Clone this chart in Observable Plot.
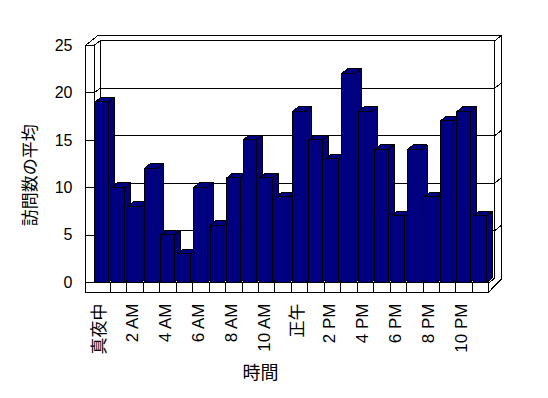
<!DOCTYPE html>
<html>
<head>
<meta charset="utf-8">
<script src="https://cdn.jsdelivr.net/npm/d3@7"></script>
<script src="https://cdn.jsdelivr.net/npm/@observablehq/plot@0.6"></script>
<style>
  html, body { margin: 0; padding: 0; background: #ffffff; }
  #chart { width: 548px; height: 398px; }
</style>
</head>
<body>
<div id="chart"></div>
<script>
// ---- data ----
const hourLabels = ["真夜中","1 AM","2 AM","3 AM","4 AM","5 AM","6 AM","7 AM","8 AM","9 AM","10 AM","11 AM",
                    "正午","1 PM","2 PM","3 PM","4 PM","5 PM","6 PM","7 PM","8 PM","9 PM","10 PM","11 PM"];
const visits = [19,10,8,12,5,3,10,6,11,15,11,9,18,15,13,22,18,14,7,14,9,17,18,7];
const yTicks = [0,5,10,15,20,25];
const xTickIdx = [0,2,4,6,8,10,12,14,16,18,20,22];
const yTitle = "訪問数の平均";
const xTitle = "時間";

// ---- 3D geometry in data units ----
const X0 = -0.5, X1 = visits.length - 0.5, Y1 = 25;
const DX = 0.365, DY = 0.495;          // depth of the chart (bars span it)
const LW = 0.53, FT = 0.97;             // left wall / floor thickness
const BWX = 0.41, BWY = 0.58;           // back wall thickness
const HW = 0.41;                        // half bar width

const segs = [];
const S = (x1, y1, x2, y2) => segs.push({x1, y1, x2, y2});
// left wall
S(X0 - LW, Y1, X0 - LW, -FT);
S(X0, Y1, X0, 0);
for (const v of yTicks) { S(X0 - LW, v, X0, v); S(X0, v, X0 + DX, v + DY); }
// back wall
S(X0 + DX, DY, X0 + DX, Y1 + DY);
S(X1 + DX, DY, X1 + DX, Y1 + DY);
for (const v of yTicks.filter(v => v > 0)) {
  S(X0 + DX, v + DY, X1 + DX, v + DY);
  S(X1 + DX, v + DY, X1 + DX + BWX, v + DY + BWY);
}
S(X0 + 0.255, Y1 + DY + BWY, X1 + DX + BWX, Y1 + DY + BWY);
S(X0 - LW, Y1, X0 + 0.255, Y1 + DY + BWY);
S(X1 + DX + BWX, Y1 + DY + BWY, X1 + DX + BWX, 0.42);
S(X1 + DX + BWX, 0.42, X1, -FT);
// floor
S(X0 - LW, -FT, X1, -FT);
S(X0, 0, X1, 0);
S(X1, 0, X1, -FT);
S(X1, 0, X1 + DX, DY);
for (let k = 0; k < visits.length - 1; k++) S(k + 0.5, 0, k + 0.5, -FT);

// bar faces
const fronts = visits.map((v, i) => ({bar: i, x1: i - HW, x2: i + HW, y1: 0, y2: v}));
const sides = visits.flatMap((v, i) => [
  {bar: i, x: i + HW, y1: 0, y2: v},
  {bar: i, x: i + HW + DX, y1: DY, y2: v + DY}
]);
const tops = visits.flatMap((v, i) => [
  {bar: i, y: v, x1: i - HW, x2: i + HW},
  {bar: i, y: v + DY, x1: i - HW + DX, x2: i + HW + DX}
]);

const NAVY = "#000080";
const chart = Plot.plot({
  width: 548,
  height: 398,
  marginLeft: 93.5,
  marginRight: 59.7,
  marginTop: 45,
  marginBottom: 115.7,
  style: {fontFamily: "'Liberation Sans', 'Noto Sans CJK JP', sans-serif", fontSize: "16px", background: "#ffffff", color: "#000"},
  x: {type: "linear", domain: [X0, X1]},
  y: {domain: [0, 25], label: null},
  marks: [
    Plot.link(segs, {x1: "x1", y1: "y1", x2: "x2", y2: "y2", stroke: "#000", strokeWidth: 1, shapeRendering: "crispEdges"}),
    Plot.areaY(sides, {x: "x", y1: "y1", y2: "y2", z: "bar", fill: NAVY, stroke: "#000", strokeWidth: 1, shapeRendering: "crispEdges"}),
    Plot.areaX(tops, {y: "y", x1: "x1", x2: "x2", z: "bar", fill: NAVY, stroke: "#000", strokeWidth: 1, shapeRendering: "crispEdges"}),
    Plot.rect(fronts, {x1: "x1", x2: "x2", y1: "y1", y2: "y2", fill: NAVY, stroke: "#000", strokeWidth: 1, shapeRendering: "crispEdges"}),
    Plot.axisY({ticks: yTicks, tickSize: 0, tickPadding: 21.5, label: null, fontSize: 16}),
    Plot.axisX({ticks: xTickIdx, tickFormat: i => hourLabels[i], tickRotate: -90, tickSize: 0, tickPadding: 20.7, dx: -2.5, label: null, fontSize: 17, fill: "#000"}),
    Plot.text([yTitle], {frameAnchor: "left", rotate: -90, textAnchor: "middle", lineAnchor: "middle", dx: -63.5, dy: 11, fontSize: 17, fill: "#000"}),
    Plot.text([xTitle], {frameAnchor: "bottom", textAnchor: "middle", lineAnchor: "middle", dx: -31, dy: 90.7, fontSize: 18, fill: "#000"})
  ]
});
document.getElementById("chart").appendChild(chart);
</script>
</body>
</html>
